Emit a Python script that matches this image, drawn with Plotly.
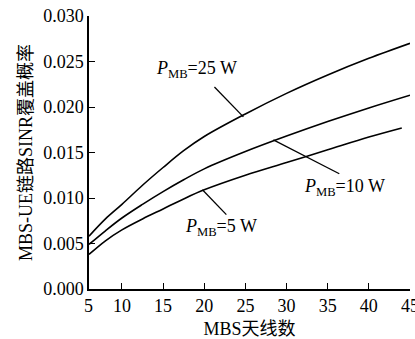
import plotly.graph_objects as go

# Data
antennas = [6, 8, 10, 12.5, 15, 17.5, 20, 25, 30, 35, 40, 45]
p25 = [0.0058, 0.0077, 0.0093, 0.0114, 0.01335, 0.0152, 0.01676, 0.01924, 0.0215, 0.02352, 0.02535, 0.0270]
p10 = [0.0049, 0.0064, 0.0078, 0.0093, 0.0107, 0.0120, 0.0132, 0.0151, 0.0168, 0.0184, 0.0199, 0.0213]
antennas_5 = [6, 8, 10, 12.5, 15, 17.5, 20, 25, 30, 35, 40, 44]
p5 = [0.0038, 0.0053, 0.0065, 0.0077, 0.0088, 0.0099, 0.0109, 0.0125, 0.0139, 0.0153, 0.0167, 0.0177]

x_ticks = [10, 15, 20, 25, 30, 35, 40, 45]
y_ticks = [0.000, 0.005, 0.010, 0.015, 0.020, 0.025, 0.030]
y_ticktext = ["0.000", "0.005", "0.010", "0.015", "0.020", "0.025", "0.030"]

labels = ["<i>P</i><sub>MB</sub>=25 W", "<i>P</i><sub>MB</sub>=10 W", "<i>P</i><sub>MB</sub>=5 W"]
label_pos = [(19.05, 0.02407), (37.02, 0.01113), (22.09, 0.00674)]
pointer_lines = [((21.24, 0.02220), (24.76, 0.01891)),
                 ((36.41, 0.01266), (28.40, 0.01639)),
                 ((22.69, 0.00817), (19.78, 0.01091))]

FONT = "Liberation Serif, Times New Roman, Noto Sans CJK SC, serif"

fig = go.Figure()
for xs, ys in [(antennas, p25), (antennas, p10), (antennas_5, p5)]:
    fig.add_trace(go.Scatter(x=xs, y=ys, mode="lines", line=dict(color="black", width=1.6, shape="spline"),
                             showlegend=False, hoverinfo="skip"))

for (x0, y0), (x1, y1) in pointer_lines:
    fig.add_shape(type="line", xref="x", yref="y", x0=x0, y0=y0, x1=x1, y1=y1,
                  line=dict(color="black", width=1.3))

for txt, (lx, ly) in zip(labels, label_pos):
    fig.add_annotation(x=lx, y=ly, xref="x", yref="y", text=txt, showarrow=False,
                       font=dict(family=FONT, size=18, color="black"))

# "5" label at the axis corner
fig.add_annotation(x=-0.022, y=0, xref="paper", yref="paper", text="5", showarrow=False,
                   yanchor="top", yshift=-5, font=dict(family=FONT, size=18, color="black"))

fig.update_layout(
    width=415, height=339,
    margin=dict(l=88.5, r=5, t=16, b=49.5, autoexpand=False),
    paper_bgcolor="white", plot_bgcolor="white",
    font=dict(family=FONT, size=18, color="black"),
    showlegend=False,
)
fig.update_xaxes(range=[6, 45], tickvals=x_ticks, ticks="inside", ticklen=6, tickwidth=1.3,
                 tickcolor="black", showline=True, linecolor="black", linewidth=1.5,
                 showgrid=False, zeroline=False, tickfont=dict(family=FONT, size=18), automargin=False,
                 ticklabeloverflow="allow",
                 title=dict(text="MBS天线数", font=dict(family=FONT, size=18), standoff=7))
fig.update_yaxes(range=[0, 0.030], tickvals=y_ticks, ticktext=y_ticktext, ticks="inside", ticklen=6,
                 tickwidth=1.3, tickcolor="black", showline=True, linecolor="black", linewidth=1.5,
                 showgrid=False, zeroline=False, tickfont=dict(family=FONT, size=18), automargin=False,
                 title=dict(text="MBS-UE链路SINR覆盖概率", font=dict(family=FONT, size=18), standoff=6))

fig.write_html("out.html", config={"displayModeBar": False},
               post_script="document.body.style.margin='0';document.body.style.overflow='hidden';")
